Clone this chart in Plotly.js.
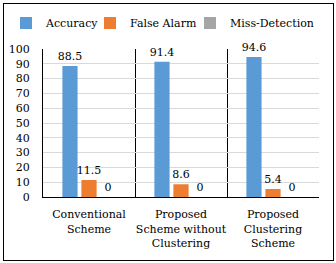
<!DOCTYPE html>
<html><head><meta charset="utf-8">
<script src="https://cdn.plot.ly/plotly-3.0.1.min.js"></script>
<style>html,body{margin:0;padding:0;background:#fff;}#wrap{position:relative;width:336px;height:263px;}#chart{width:336px;height:263px;}#frame{position:absolute;left:3px;top:3px;width:329px;height:256px;border:1px solid #000;pointer-events:none;}</style>
</head><body><div id="wrap"><div id="chart"></div><div id="frame"></div></div>
<script>
const categories = ["Conventional<br>Scheme", "Proposed<br>Scheme without<br>Clustering", "Proposed<br>Clustering<br>Scheme"];
const seriesNames = ["Accuracy", "False Alarm", "Miss-Detection"];
const accuracy = [88.5, 91.4, 94.6];
const falseAlarm = [11.5, 8.6, 5.4];
const missDetection = [0, 0, 0];
const yTicks = [0,10,20,30,40,50,60,70,80,90,100];
const font = {family: "DejaVu Serif", size: 11, color: "#000"};
const colors = ["#5B9BD5", "#ED7D31", "#A5A5A5"];
const legendIds = ["legend", "legend2", "legend3"];
const legendX = [6, 90, 190];
function tr(i, y){
  return {type:"bar", name:seriesNames[i], x:categories, y:y, marker:{color:colors[i]},
    text:y.map(String), textposition:"outside", cliponaxis:false, constraintext:"none",
    textfont:font, legend:legendIds[i]};
}
const data = [tr(0, accuracy), tr(1, falseAlarm), tr(2, missDetection)];
const layout = {
  width:336, height:263, margin:{l:43, r:17, t:49, b:66, autoexpand:false},
  paper_bgcolor:"#fff", plot_bgcolor:"#fff", font:font,
  barmode:"group", bargap:0.38, bargroupgap:0.2,
  showlegend:true,
  xaxis:{type:"category", tickson:"boundaries", showgrid:true, gridcolor:"#000", gridwidth:1, showline:true, linecolor:"#000", ticks:"", tickangle:0, tickfont:font, ticklabelstandoff:7, automargin:false},
  yaxis:{range:[0,100], tickvals:yTicks, showgrid:true, gridcolor:"#D9D9D9", showline:true, linecolor:"#000", ticks:"", tickfont:font, ticklabelstandoff:10, zeroline:false, automargin:false}
};
legendIds.forEach(function(id, i){
  layout[id] = {orientation:"h", xref:"container", x:legendX[i]/336, xanchor:"left", yref:"container", y:1-23/263, yanchor:"middle", font:font, itemwidth:30, bgcolor:"rgba(0,0,0,0)"};
});
Plotly.newPlot("chart", data, layout, {displayModeBar:false, staticPlot:true});
</script></body></html>
